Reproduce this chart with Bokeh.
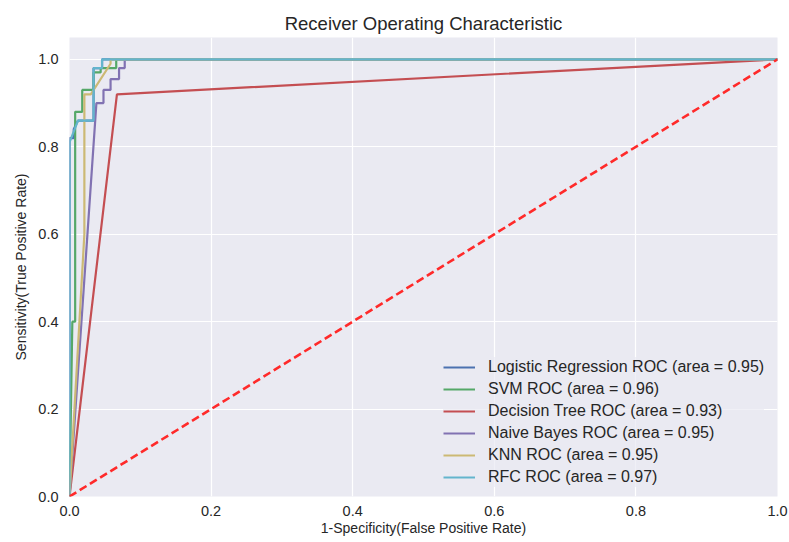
from bokeh.plotting import figure
from bokeh.models import Range1d, FixedTicker, Legend, LegendItem, Title, CustomJSTickFormatter
from bokeh.embed import file_html
from bokeh.resources import INLINE

title = "Receiver Operating Characteristic"
x_label = "1-Specificity(False Positive Rate)"
y_label = "Sensitivity(True Positive Rate)"
ticks = [0.0, 0.2, 0.4, 0.6, 0.8, 1.0]

names = ["Logistic Regression", "SVM", "Decision Tree", "Naive Bayes", "KNN", "RFC"]
areas = [0.95, 0.96, 0.93, 0.95, 0.95, 0.97]
colors = ["#4C72B0", "#55A868", "#C44E52", "#8172B2", "#CCB974", "#64B5CD"]

lr_fpr = [0.0, 0.0, 0.006, 0.006, 0.012, 0.034, 0.034, 0.046, 0.046, 1.0]
lr_tpr = [0.0, 0.82, 0.82, 0.84, 0.86, 0.86, 0.98, 0.98, 1.0, 1.0]

svm_fpr = [0.0, 0.004, 0.008, 0.008, 0.018, 0.018, 0.034, 0.034, 0.044, 0.044, 0.066, 0.066, 1.0]
svm_tpr = [0.0, 0.40, 0.40, 0.88, 0.88, 0.93, 0.93, 0.97, 0.97, 0.98, 0.98, 1.0, 1.0]

dt_fpr = [0.0, 0.067, 1.0]
dt_tpr = [0.0, 0.92, 1.0]

nb_fpr = [0.0, 0.038, 0.048, 0.048, 0.058, 0.058, 0.07, 0.07, 0.078, 0.078, 1.0]
nb_tpr = [0.0, 0.90, 0.90, 0.93, 0.93, 0.955, 0.955, 0.98, 0.98, 1.0, 1.0]

knn_fpr = [0.0, 0.021, 0.021, 0.03, 0.058, 0.058, 1.0]
knn_tpr = [0.0, 0.60, 0.92, 0.92, 0.99, 1.0, 1.0]

rfc_fpr = [0.0, 0.0, 0.012, 0.034, 0.034, 0.046, 0.046, 1.0]
rfc_tpr = [0.0, 0.81, 0.86, 0.86, 0.98, 0.98, 1.0, 1.0]

diag_x = [0.0, 1.0]
diag_y = [0.0, 1.0]

curves = [(lr_fpr, lr_tpr), (svm_fpr, svm_tpr), (dt_fpr, dt_tpr),
          (nb_fpr, nb_tpr), (knn_fpr, knn_tpr), (rfc_fpr, rfc_tpr)]

FONT = "Liberation Sans"
TXT = "#262626"

p = figure(width=789, height=542, frame_width=708, frame_height=459,
           output_backend="svg", toolbar_location=None,
           x_range=Range1d(0, 1.0), y_range=Range1d(0, 1.05),
           min_border_left=69, min_border_right=12, min_border_top=37, min_border_bottom=46,
           background_fill_color="#EAEAF2", border_fill_color="white")
p.outline_line_color = None

p.title = Title(text=title, align="center", text_font=FONT, text_font_size="18.5px",
                text_font_style="normal", text_color=TXT, offset=0)
p.title.standoff = 8

for ax in (p.xaxis[0], p.yaxis[0]):
    ax.ticker = FixedTicker(ticks=ticks)
    ax.axis_line_color = None
    ax.major_tick_line_color = None
    ax.minor_tick_line_color = None
    ax.major_tick_out = 0
    ax.major_tick_in = 0
    ax.major_label_text_font = FONT
    ax.major_label_text_font_size = "14.5px"
    ax.major_label_text_color = TXT
    ax.axis_label_text_font = FONT
    ax.axis_label_text_font_size = "14px"
    ax.axis_label_text_font_style = "normal"
    ax.axis_label_text_color = TXT

fmt = CustomJSTickFormatter(code="return tick.toFixed(1);")
p.xaxis[0].formatter = fmt
p.yaxis[0].formatter = fmt
p.xaxis[0].axis_label = x_label
p.yaxis[0].axis_label = y_label
p.xaxis[0].major_label_standoff = 9
p.yaxis[0].major_label_standoff = 11
p.xaxis[0].axis_label_standoff = 1
p.yaxis[0].axis_label_standoff = 6

p.grid.grid_line_color = "white"
p.grid.grid_line_width = 1.2
p.xgrid.ticker = FixedTicker(ticks=ticks)
p.ygrid.ticker = FixedTicker(ticks=ticks)

items = []
for (fx, ty), name, area, c in zip(curves, names, areas, colors):
    r = p.line(fx, ty, line_color=c, line_width=2.2)
    items.append(LegendItem(label=f"{name} ROC (area = {area:.2f})", renderers=[r]))

p.line(diag_x, diag_y, line_color="#FF2A2A", line_width=2.6, line_dash="8 4")

legend = Legend(items=items, location=(374, 9),
                glyph_width=32, glyph_height=20, label_height=20, spacing=2,
                label_standoff=13, padding=5, margin=0,
                label_text_font=FONT, label_text_font_size="16px", label_text_color=TXT,
                background_fill_color="#EAEAF2", background_fill_alpha=0.7,
                border_line_color=None)
p.add_layout(legend, "center")

open("out.html", "w").write(file_html(p, INLINE))
